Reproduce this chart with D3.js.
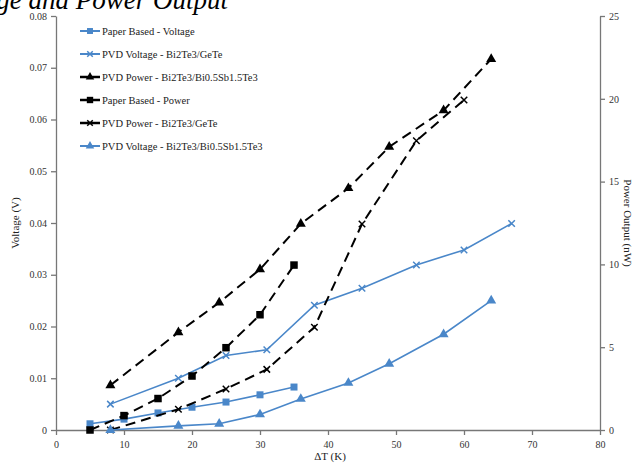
<!DOCTYPE html>
<html><head><meta charset="utf-8">
<script src="https://cdn.jsdelivr.net/npm/d3@7"></script>
<style>body{margin:0;background:#fff}svg{display:block}</style>
</head><body>
<svg id="c" width="635" height="465"></svg>
<script>
const xTicks = [0,10,20,30,40,50,60,70,80];
const vTicks = [0,0.01,0.02,0.03,0.04,0.05,0.06,0.07,0.08];
const pTicks = [0,5,10,15,20,25];

const paperVoltX = [5,10,15,20,25,30,35];
const paperVoltY = [0.0012,0.0021,0.0033,0.0044,0.0054,0.0068,0.0083];
const pvdVoltGeTeX = [8,18,25,31,38,45,53,60,67];
const pvdVoltGeTeY = [0.005,0.010,0.0144,0.0155,0.0241,0.0274,0.0319,0.0348,0.0399];
const pvdPowBiSbX = [8,18,24,30,36,43,49,57,64];
const pvdPowBiSbY = [2.7,5.9,7.7,9.7,12.45,14.6,17.1,19.3,22.4];
const paperPowX = [5,10,15,20,25,30,35];
const paperPowY = [0,0.87,1.9,3.26,4.97,6.96,9.96];
const pvdPowGeTeX = [8,18,25,31,38,45,53,60];
const pvdPowGeTeY = [0,1.25,2.48,3.66,6.2,12.44,17.47,19.93];
const pvdVoltBiSbX = [8,18,24,30,36,43,49,57,64];
const pvdVoltBiSbY = [0,0.0008,0.0012,0.003,0.006,0.0091,0.0128,0.0185,0.025];

const legendLabels = ["Paper Based - Voltage","PVD Voltage - Bi2Te3/GeTe","PVD Power - Bi2Te3/Bi0.5Sb1.5Te3","Paper Based - Power","PVD Power - Bi2Te3/GeTe","PVD Voltage - Bi2Te3/Bi0.5Sb1.5Te3"];

const BLUE = "#4a87c9";
const FONT = "'Liberation Serif','Times New Roman',serif";
const svg = d3.select("#c");
const L=56, R=600, T=16, B=430;
const x = d3.scaleLinear().domain([0,80]).range([L,R]);
const yV = d3.scaleLinear().domain([0,0.08]).range([B,T]);
const yP = d3.scaleLinear().domain([0,25]).range([B,T]);

// title (clipped at top)
svg.append("text").attr("x",228).attr("y",9).attr("text-anchor","end")
  .attr("font-family",FONT).attr("font-style","italic").attr("font-size",27).attr("fill","#000")
  .text("Voltage and Power Output");

function styleAxis(g){
  g.selectAll("path,line").attr("stroke","#777").attr("stroke-width",1.3);
  g.selectAll("text").attr("font-family",FONT).attr("font-size",10).attr("fill","#333");
}
svg.append("g").attr("transform",`translate(0,${B})`)
  .call(d3.axisBottom(x).tickValues(xTicks).tickSize(5).tickSizeOuter(0).tickPadding(6).tickFormat(d3.format("d")))
  .call(styleAxis);
svg.append("g").attr("transform",`translate(${L},0)`)
  .call(d3.axisLeft(yV).tickValues(vTicks).tickSize(5).tickSizeOuter(0).tickPadding(4).tickFormat(d=>d===0?"0":d3.format(".2f")(d)))
  .call(styleAxis);
svg.append("g").attr("transform",`translate(${R},0)`)
  .call(d3.axisRight(yP).tickValues(pTicks).tickSize(5).tickSizeOuter(0).tickPadding(4).tickFormat(d3.format("d")))
  .call(styleAxis);

svg.append("text").attr("x",330).attr("y",460).attr("text-anchor","middle")
  .attr("font-family",FONT).attr("font-size",11).attr("fill","#222").text("ΔT (K)");
svg.append("text").attr("transform","translate(19,223) rotate(-90)").attr("text-anchor","middle")
  .attr("font-family",FONT).attr("font-size",11).attr("fill","#222").text("Voltage (V)");
svg.append("text").attr("transform","translate(624,223) rotate(90)").attr("text-anchor","middle")
  .attr("font-family",FONT).attr("font-size",11).attr("fill","#222").text("Power Output (nW)");

function marker(g, type, color, size){
  if(type==="square"){
    g.append("rect").attr("x",-size/2).attr("y",-size/2).attr("width",size).attr("height",size).attr("fill",color);
  } else if(type==="triangle"){
    g.append("path").attr("d",d3.symbol(d3.symbolTriangle, size*size*0.6)()).attr("fill",color);
  } else if(type==="x"){
    const s=size/2;
    g.append("path").attr("d",`M${-s},${-s}L${s},${s}M${-s},${s}L${s},${-s}`).attr("stroke",color).attr("stroke-width",1.5).attr("fill","none");
  }
}

const series = [
  {xs:paperVoltX, ys:paperVoltY, y:yV, color:BLUE, dash:null, m:"square", ms:7},
  {xs:pvdVoltGeTeX, ys:pvdVoltGeTeY, y:yV, color:BLUE, dash:null, m:"x", ms:6.5},
  {xs:pvdPowBiSbX, ys:pvdPowBiSbY, y:yP, color:"#000", dash:"10,6", m:"triangle", ms:8.5},
  {xs:paperPowX, ys:paperPowY, y:yP, color:"#000", dash:"10,6", m:"square", ms:7.5},
  {xs:pvdPowGeTeX, ys:pvdPowGeTeY, y:yP, color:"#000", dash:"10,6", m:"x", ms:6.5},
  {xs:pvdVoltBiSbX, ys:pvdVoltBiSbY, y:yV, color:BLUE, dash:null, m:"triangle", ms:8.5},
];

series.forEach(s=>{
  const pts = s.xs.map((v,i)=>[v,s.ys[i]]);
  const line = d3.line().x(d=>x(d[0])).y(d=>s.y(d[1]));
  svg.append("path").datum(pts).attr("d",line).attr("fill","none")
    .attr("stroke",s.color).attr("stroke-width",s.dash?2:1.6)
    .attr("stroke-dasharray",s.dash);
  pts.forEach(p=>{
    const g = svg.append("g").attr("transform",`translate(${x(p[0])},${s.y(p[1])})`);
    marker(g,s.m,s.color,s.ms);
  });
});

// legend
legendLabels.forEach((lab,i)=>{
  const s = series[i];
  const yy = 31 + i*23;
  svg.append("line").attr("x1",80).attr("x2",100).attr("y1",yy).attr("y2",yy)
    .attr("stroke",s.color).attr("stroke-width",s.dash?2.5:2);
  const g = svg.append("g").attr("transform",`translate(90,${yy})`);
  marker(g,s.m,s.color,s.ms*0.85);
  svg.append("text").attr("x",102).attr("y",yy+3.5).attr("font-family",FONT).attr("font-size",10.5)
    .attr("fill","#222").text(lab);
});
</script>
</body></html>
